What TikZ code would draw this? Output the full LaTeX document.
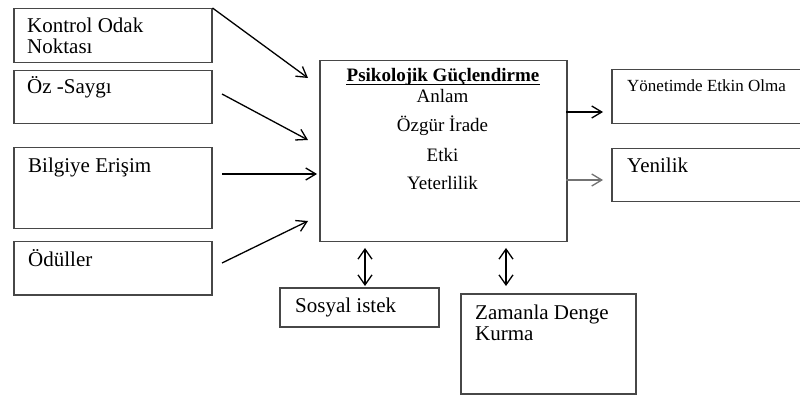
\documentclass[tikz,border=0pt]{standalone}
\usepackage{fontspec}
\setmainfont{Liberation Serif}
\usetikzlibrary{arrows.meta}
\begin{document}
\begin{tikzpicture}[x=1pt,y=-1pt,
  box/.style={draw=black!72, line width=1.5pt, anchor=north west, inner sep=0pt},
  lbl/.style={anchor=base west, inner sep=0pt, font=\fontsize{21}{21}\selectfont},
  small/.style={anchor=base west, inner sep=0pt, font=\fontsize{17}{17}\selectfont},
  ctr/.style={anchor=base, inner sep=0pt, font=\fontsize{19}{19}\selectfont},
  link/.style={line width=1.3pt, -{Straight Barb[length=10pt,width=12pt]}},
  both/.style={line width=1.3pt, {Straight Barb[length=10pt,width=14pt]}-{Straight Barb[length=10pt,width=14pt]}}]
\useasboundingbox (0,0) rectangle (800,395);

% input boxes
\node[box, minimum width=198pt, minimum height=54pt] (kon) at (13,8) {};
\node[box, minimum width=198pt, minimum height=53pt] (oz)  at (13,70) {};
\node[box, minimum width=198pt, minimum height=81pt] (bil) at (13,147) {};
\node[box, minimum width=198pt, minimum height=53pt] (odu) at (13,241) {};
\node[lbl] (konA) at (27,33) {Kontrol Odak};
\node[lbl] (konB) at (27,54) {Noktası};
\node[lbl] (ozT)  at (27,94) {Öz -Saygı};
\node[lbl] (bilT) at (28,173) {Bilgiye Erişim};
\node[lbl] (oduT) at (28,266) {Ödüller};

% central box
\node[box, minimum width=247pt, minimum height=181pt] (psk) at (319,60) {};
\node[ctr, font=\fontsize{19}{19}\selectfont\bfseries] (pskT) at (443,82) {Psikolojik Güçlendirme};
\draw[line width=1.1pt] ([yshift=-2.5pt]pskT.base west) -- ([yshift=-2.5pt]pskT.base east);
\node[ctr] (d1) at (442.5,103) {Anlam};
\node[ctr] (d2) at (442.5,132) {Özgür İrade};
\node[ctr] (d3) at (442.5,162) {Etki};
\node[ctr] (d4) at (442.5,190) {Yeterlilik};

% output boxes
\node[box, minimum width=200pt, minimum height=54pt] (yon) at (611,69) {};
\node[box, minimum width=200pt, minimum height=53pt] (yen) at (611,148) {};
\node[small] (yonT) at (627,92) {Yönetimde Etkin Olma};
\node[lbl] (yenT) at (627,173) {Yenilik};

% lower boxes
\node[box, minimum width=159pt, minimum height=39pt] (sos) at (279,287) {};
\node[box, minimum width=175pt, minimum height=100pt] (zam) at (460,293) {};
\node[lbl] (sosT) at (295,312) {Sosyal istek};
\node[lbl] (zamA) at (475,319) {Zamanla Denge};
\node[lbl] (zamB) at (475,340) {Kurma};

% arrow end points
\coordinate (e1) at (308,78);
\coordinate (s2) at (222,94);
\coordinate (e2) at (308,140);
\coordinate (s3) at (222,174);
\coordinate (e3) at (317,174);
\coordinate (s4) at (222,263);
\coordinate (e4) at (308,221);
\coordinate (o1s) at (566,112);
\coordinate (o1e) at (603,112);
\coordinate (o2s) at (566,180);
\coordinate (o2e) at (603,180);
\coordinate (v1a) at (365,248);
\coordinate (v1b) at (365,286);
\coordinate (v2a) at (506,248);
\coordinate (v2b) at (506,286);

% connectors
\draw[link] (kon.north east) -- (e1);
\draw[link] (s2) -- (e2);
\draw[link] (s3) -- (e3);
\draw[link] (s4) -- (e4);
\draw[link] (o1s) -- (o1e);
\draw[link, draw=black!55] (o2s) -- (o2e);
\draw[both] (v1a) -- (v1b);
\draw[both] (v2a) -- (v2b);
\end{tikzpicture}
\end{document}
